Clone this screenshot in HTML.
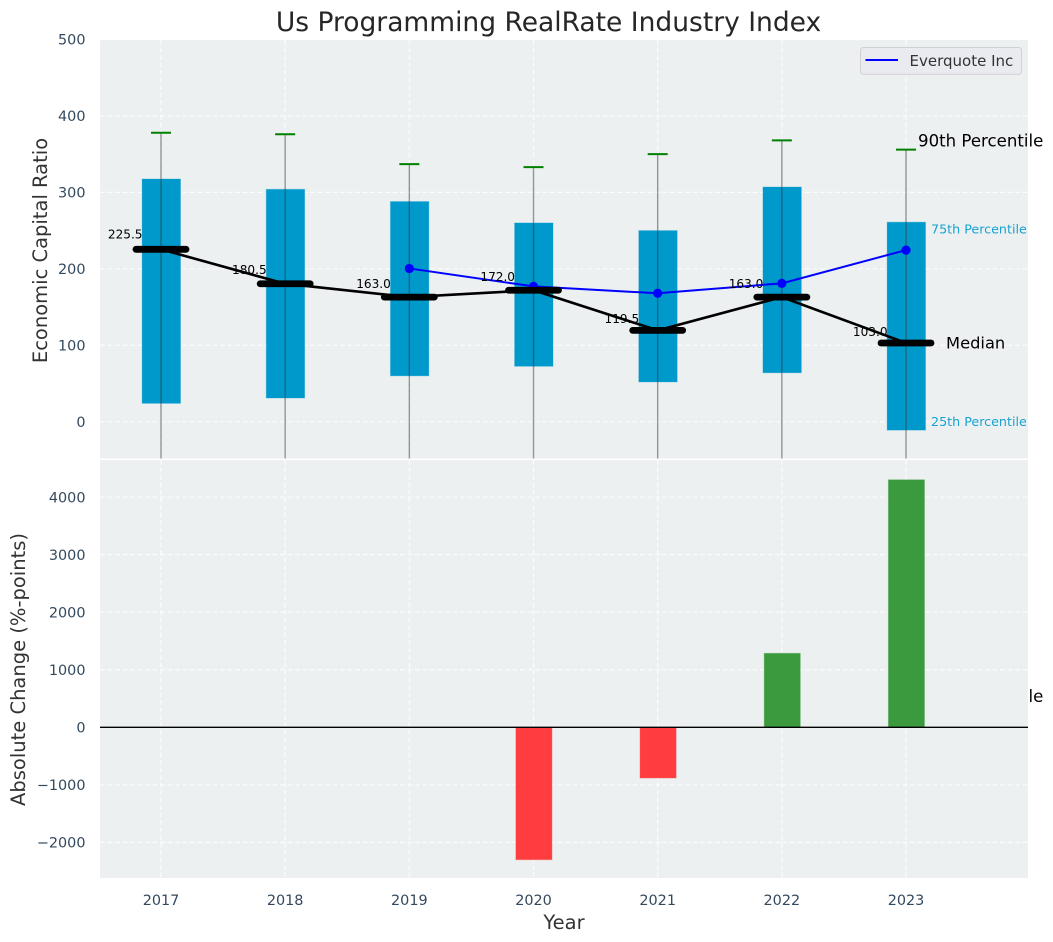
<!DOCTYPE html>
<html lang="en">
<head>
<meta charset="utf-8">
<title>Us Programming RealRate Industry Index</title>
<style>
html,body{margin:0;padding:0;background:#fff;}
svg{display:block;font-family:"DejaVu Sans","Liberation Sans",sans-serif;}
</style>
</head>
<body>
<svg id="chart" xmlns="http://www.w3.org/2000/svg" width="1053" height="942" viewBox="0 0 1053 942">
<defs><clipPath id="top-clip"><rect x="100" y="40" width="928" height="418.5"/></clipPath>
<clipPath id="bottom-clip"><rect x="100" y="460" width="928" height="418"/></clipPath></defs>
</svg>
<script>
const years = [2017, 2018, 2019, 2020, 2021, 2022, 2023];
const p90 = [378, 376, 337, 333, 350, 368, 356];
const p75 = [317.5, 304, 288, 260, 250, 307, 261];
const medians = [225.5, 180.5, 163, 172, 119.5, 163, 103];
const p25 = [24, 31, 60, 72.5, 52, 64, -11];
const p10 = [-250, -230, -200, -200, -230, -210, -359];
const everquote = [null, null, 200.5, 177, 168, 181, 224.5];
const absChange = [null, null, null, -2300, -880, 1285, 4300];
const topTicks = [0, 100, 200, 300, 400, 500];
const bottomTicks = [-2000, -1000, 0, 1000, 2000, 3000, 4000];

const svg = document.getElementById('chart');
const NS = 'http://www.w3.org/2000/svg';
function xs(y){ return 161 + (y - 2017) * 124.17; }
function yTop(v){ return 421.7 - v * 0.7644; }
function yBot(v){ return 727.3 - v * 0.05755; }
function el(tag, attrs, parent){
  const e = document.createElementNS(NS, tag);
  for (const k in attrs) e.setAttribute(k, attrs[k]);
  (parent || svg).appendChild(e);
  return e;
}
function txt(s, attrs, parent){
  const e = el('text', attrs, parent);
  e.textContent = s;
  return e;
}
function fmtTick(v){ return (v < 0 ? '\u2212' : '') + Math.abs(v); }

const title = txt('Us Programming RealRate Industry Index', {x:548.5, y:31, 'text-anchor':'middle', 'font-size':26.5, fill:'#262626'});



const topPanel = el('rect', {x:100, y:40, width:928, height:418.5, fill:'#ecf0f1'});



const gridAttrs = {stroke:'#fff', 'stroke-width':1.2, 'stroke-dasharray':'5 2.5', 'stroke-opacity':0.8};

topTicks.forEach(function(t){
  const g = el('line', Object.assign({x1:100, x2:1028, y1:yTop(t), y2:yTop(t)}, gridAttrs));
  
  
  const l = txt(fmtTick(t), {x:85.5, y:yTop(t) + 5.2, 'text-anchor':'end', 'font-size':14.4, fill:'#34495e'});
  
  
});
years.forEach(function(y){
  const g = el('line', Object.assign({x1:xs(y), x2:xs(y), y1:40, y2:458.5}, gridAttrs));
  
  
});

/* 10th percentile label sits under the lower panel, only its tail shows */
const p10Label = txt('10th Percentile', {x:xs(2023) + 12, y:yTop(p10[6]) + 6, 'font-size':16.6, fill:'#000'});



const topLayer = el('g', {'clip-path':'url(#top-clip)'});



years.forEach(function(y, i){
  const box = el('rect', {x:xs(y) - 18.9, y:yTop(p75[i]), width:38.4, height:yTop(p25[i]) - yTop(p75[i]), fill:'#0099cc', stroke:'#0099cc', 'stroke-opacity':0.3, 'stroke-width':1}, topLayer);
  
  
});
years.forEach(function(y, i){
  const w = el('line', {x1:xs(y), x2:xs(y), y1:yTop(p90[i]), y2:yTop(p10[i]), stroke:'#333', 'stroke-opacity':0.5, 'stroke-width':1.4}, topLayer);
  
  
  const c = el('line', {x1:xs(y) - 10, x2:xs(y) + 10, y1:yTop(p90[i]), y2:yTop(p90[i]), stroke:'#008000', 'stroke-width':2}, topLayer);
  
  
});

const eqPts = years.map(function(y, i){ return everquote[i] === null ? null : xs(y) + ',' + yTop(everquote[i]); }).filter(Boolean).join(' ');
const eqLine = el('polyline', {points:eqPts, fill:'none', stroke:'#0000ff', 'stroke-width':2}, topLayer);


years.forEach(function(y, i){
  if (everquote[i] === null) return;
  const p = el('circle', {cx:xs(y), cy:yTop(everquote[i]), r:4.6, fill:'#0000ff'}, topLayer);
  
  
});

const medianLine = el('polyline', {points:years.map(function(y, i){ return xs(y) + ',' + yTop(medians[i]); }).join(' '), fill:'none', stroke:'#000', 'stroke-width':2.6}, topLayer);



years.forEach(function(y, i){
  const m = el('line', {x1:xs(y) - 25, x2:xs(y) + 25, y1:yTop(medians[i]), y2:yTop(medians[i]), stroke:'#000', 'stroke-width':6.8, 'stroke-linecap':'round'}, topLayer);
  
  
});

years.forEach(function(y, i){
  const l = txt(medians[i].toFixed(1), {x:xs(y) - 18.5, y:yTop(medians[i]) - (3.6 + 0.0328 * medians[i]), 'text-anchor':'end', 'font-size':12.1, fill:'#000'});
  
  
});

const lastX = xs(2023);
const p90Label = txt('90th Percentile', {x:lastX + 12, y:yTop(p90[6]) - 3.3, 'font-size':16.6, fill:'#000'});


const medLabel = txt('Median', {x:lastX + 40, y:yTop(medians[6]) + 5.5, 'font-size':16.3, fill:'#000'});


const p75Label = txt('75th Percentile', {x:lastX + 25, y:yTop(p75[6]) + 11.5, 'font-size':12.7, fill:'#0099cc', 'fill-opacity':0.9});


const p25Label = txt('25th Percentile', {x:lastX + 25, y:yTop(p25[6]) - 4, 'font-size':12.7, fill:'#0099cc', 'fill-opacity':0.9});



/* Legend */
const legend = el('g', {});


const legendBox = el('rect', {x:860.5, y:47.5, width:161, height:26.8, rx:3, fill:'#eaebf1', stroke:'#cfcfd4', 'stroke-width':1}, legend);


const legendLine = el('line', {x1:865.5, x2:898, y1:60, y2:60, stroke:'#0000ff', 'stroke-width':2}, legend);


const legendText = txt('Everquote Inc', {x:909.5, y:66, 'font-size':15, fill:'#333'}, legend);



/* Bottom panel */
const bottomPanel = el('rect', {x:100, y:460, width:928, height:418, fill:'#ecf0f1'});



bottomTicks.forEach(function(t){
  const g = el('line', Object.assign({x1:100, x2:1028, y1:yBot(t), y2:yBot(t)}, gridAttrs));
  
  
  const l = txt(fmtTick(t), {x:85.5, y:yBot(t) + 5.2, 'text-anchor':'end', 'font-size':14.4, fill:'#34495e'});
  
  
});
years.forEach(function(y){
  const g = el('line', Object.assign({x1:xs(y), x2:xs(y), y1:460, y2:878}, gridAttrs));
  
  
  const l = txt(String(y), {x:xs(y), y:904.8, 'text-anchor':'middle', 'font-size':14.4, fill:'#34495e'});
  
  
});

const bottomLayer = el('g', {'clip-path':'url(#bottom-clip)'});


years.forEach(function(y, i){
  const v = absChange[i];
  if (v === null) return;
  const top = Math.min(yBot(v), yBot(0));
  const h = Math.abs(yBot(v) - yBot(0));
  const b = el('rect', {x:xs(y) - 17.6, y:top, width:36, height:h, fill:v < 0 ? '#ff3c3e' : '#3b9a3d', stroke:v < 0 ? '#ff3c3e' : '#3b9a3d', 'stroke-opacity':0.4, 'stroke-width':1}, bottomLayer);
  
  
});
const zeroLine = el('line', {x1:100, x2:1028, y1:yBot(0), y2:yBot(0), stroke:'#000', 'stroke-width':1.3}, bottomLayer);



const yTitleTop = txt('Economic Capital Ratio', {x:0, y:0, transform:'translate(47,250.5) rotate(-90)', 'text-anchor':'middle', 'font-size':19.5, fill:'#333'});


const yTitleBot = txt('Absolute Change (%-points)', {x:0, y:0, transform:'translate(25,669.5) rotate(-90)', 'text-anchor':'middle', 'font-size':19.5, fill:'#333'});


const xTitle = txt('Year', {x:564, y:929, 'text-anchor':'middle', 'font-size':19.5, fill:'#333'});


</script>
</body>
</html>
